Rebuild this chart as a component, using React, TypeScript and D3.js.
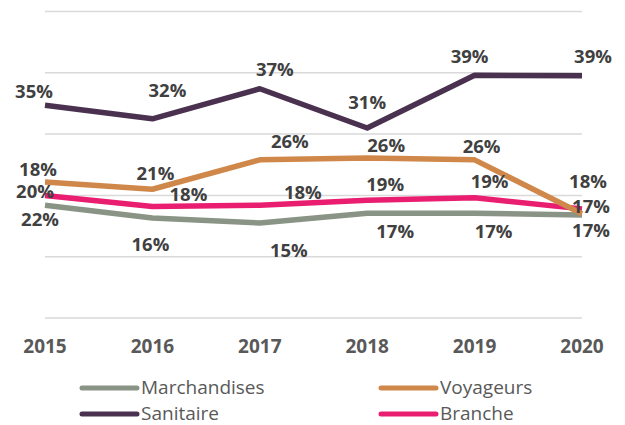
import React from "react";
import * as d3 from "d3";

const years = ["2015", "2016", "2017", "2018", "2019", "2020"];
const marchandises = [18.4, 16.3, 15.5, 17.1, 17.1, 16.8];
const voyageurs = [22.2, 21.0, 25.8, 26.1, 25.8, 17.0];
const sanitaire = [34.7, 32.5, 37.4, 31.0, 39.6, 39.5];
const branche = [20.0, 18.2, 18.4, 19.2, 19.6, 17.8];

const labelsMarchandises = ["22%", "16%", "15%", "17%", "17%", "17%"];
const labelsVoyageurs = ["18%", "21%", "26%", "26%", "26%", "18%"];
const labelsSanitaire = ["35%", "32%", "37%", "31%", "39%", "39%"];
const labelsBranche = ["20%", "18%", "18%", "19%", "19%", "17%"];

const gridTicks = [0, 10, 20, 30, 40, 50];

// label placement offsets (layout, relative to each point)
const offM = [[-5, 21], [-2, 33], [29, 34], [28, 25], [19, 25], [9, 22]];
const offV = [[-7, -6], [3, -9], [30, -12], [19, -6], [7, -7], [6, -26]];
const offS = [[-11, -7], [15, -22], [15, -13], [0, -19], [-5, -12], [11, -13]];
const offB = [[-10, 3], [36, -5], [43, -6], [18, -9], [15, -10], [9, 4]];

const W = 625;
const H = 425;

export default function App() {
  const x = d3.scalePoint<string>().domain(years).range([45, 582]);
  const y = d3.scaleLinear().domain([0, 50]).range([318, 11.5]);

  const series = [
    { name: "Marchandises", values: marchandises, labels: labelsMarchandises, off: offM, color: "#8a9486" },
    { name: "Branche", values: branche, labels: labelsBranche, off: offB, color: "#e91e70" },
    { name: "Sanitaire", values: sanitaire, labels: labelsSanitaire, off: offS, color: "#4a3150" },
    { name: "Voyageurs", values: voyageurs, labels: labelsVoyageurs, off: offV, color: "#d0884a" },
  ];

  const line = (vals: number[]) =>
    d3
      .line<number>()
      .x((_, i) => x(years[i]) as number)
      .y((v) => y(v))(vals) as string;

  const legend = [
    { name: "Marchandises", color: "#8a9486", lx: 82, ly: 388 },
    { name: "Voyageurs", color: "#d0884a", lx: 381, ly: 388 },
    { name: "Sanitaire", color: "#4a3150", lx: 82, ly: 414 },
    { name: "Branche", color: "#e91e70", lx: 381, ly: 414 },
  ];

  return (
    <svg
      width={W}
      height={H}
      style={{ position: "absolute", left: 0, top: 0, background: "#fff" }}
      fontFamily="'Open Sans', sans-serif"
    >
      {gridTicks.map((t) => (
        <line key={t} x1={45} x2={582} y1={y(t)} y2={y(t)} stroke="#d9d9d9" strokeWidth={1.5} />
      ))}
      {series.map((s) => (
        <path
          key={s.name}
          d={line(s.values)}
          fill="none"
          stroke={s.color}
          strokeWidth={5.5}
          strokeLinejoin="round"
        />
      ))}
      {series.map((s) =>
        s.labels.map((lab, i) => (
          <text
            key={s.name + i}
            x={(x(years[i]) as number) + s.off[i][0]}
            y={y(s.values[i]) + s.off[i][1]}
            textAnchor="middle"
            fontSize={18.5}
            fontWeight="bold"
            fill="#404040"
          >
            {lab}
          </text>
        ))
      )}
      {years.map((yr) => (
        <text
          key={yr}
          x={x(yr) as number}
          y={353}
          textAnchor="middle"
          fontSize={19}
          fontWeight="bold"
          fill="#595959"
        >
          {yr}
        </text>
      ))}
      {legend.map((l) => (
        <g key={l.name}>
          <line
            x1={l.lx}
            x2={l.lx + 55}
            y1={l.ly}
            y2={l.ly}
            stroke={l.color}
            strokeWidth={5}
            strokeLinecap="round"
          />
          <text x={l.lx + 59} y={l.ly + 6} fontSize={19} fill="#595959">
            {l.name}
          </text>
        </g>
      ))}
    </svg>
  );
}
